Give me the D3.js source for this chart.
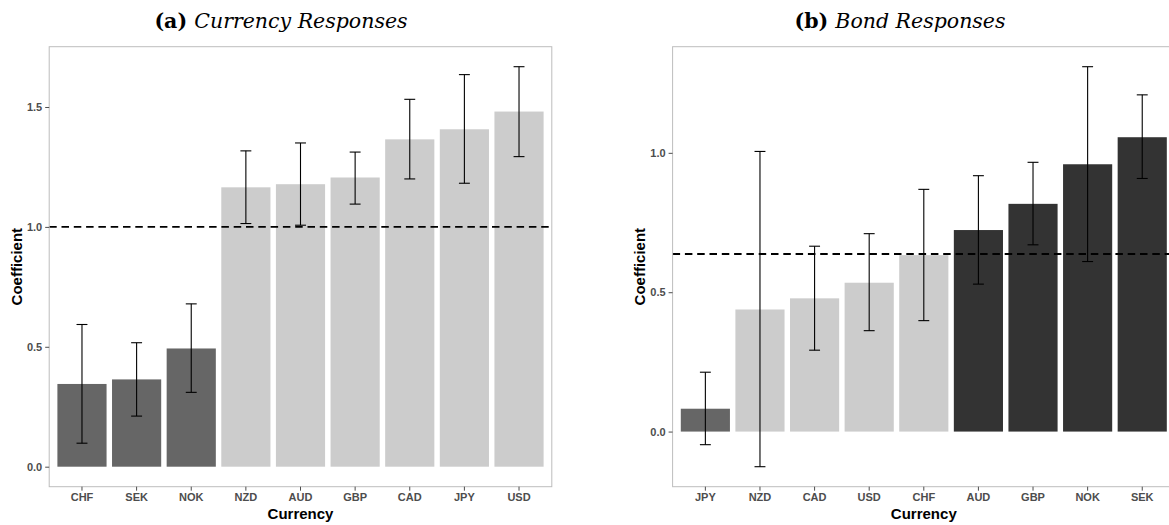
<!DOCTYPE html>
<html>
<head>
<meta charset="utf-8">
<script src="https://cdn.jsdelivr.net/npm/d3@7"></script>
<style>
  html, body { margin: 0; padding: 0; background: #ffffff; }
  svg { display: block; }
</style>
</head>
<body>
<svg id="chart" width="1169" height="525"></svg>
<script>
// ---------- Data: (a) Currency Responses ----------
const curCategories = ["CHF", "SEK", "NOK", "NZD", "AUD", "GBP", "CAD", "JPY", "USD"];
const curValues     = [0.345, 0.364, 0.493, 1.165, 1.178, 1.206, 1.365, 1.407, 1.481];
const curLower      = [0.098, 0.211, 0.310, 1.014, 1.007, 1.095, 1.200, 1.182, 1.293];
const curUpper      = [0.593, 0.517, 0.679, 1.317, 1.350, 1.312, 1.532, 1.635, 1.668];
const curGroups     = ["mid", "mid", "mid", "light", "light", "light", "light", "light", "light"];
const curReference  = 1.0;
const curTicks      = [0.0, 0.5, 1.0, 1.5];

// ---------- Data: (b) Bond Responses ----------
const bondCategories = ["JPY", "NZD", "CAD", "USD", "CHF", "AUD", "GBP", "NOK", "SEK"];
const bondValues     = [0.082, 0.438, 0.478, 0.534, 0.633, 0.723, 0.817, 0.959, 1.056];
const bondLower      = [-0.047, -0.126, 0.292, 0.362, 0.398, 0.529, 0.670, 0.610, 0.908];
const bondUpper      = [0.213, 1.005, 0.665, 0.710, 0.869, 0.918, 0.966, 1.309, 1.208];
const bondGroups     = ["mid", "light", "light", "light", "light", "dark", "dark", "dark", "dark"];
const bondReference  = 0.637;
const bondTicks      = [0.0, 0.5, 1.0];

const groupNames  = ["dark", "mid", "light"];
const groupColors = ["#333333", "#666666", "#cccccc"];

const svg = d3.select("#chart");
const color = d3.scaleOrdinal().domain(groupNames).range(groupColors);

function drawPanel(opts) {
  const { left, right, top, bottom, cats, vals, lo, hi, groups, ref, ticks,
          titleBold, titleItalic, titleX } = opts;

  const x = d3.scaleBand().domain(cats).range([left, right])
    .paddingInner(0.1).paddingOuter(0.15);

  const ymin = Math.min(0, d3.min(lo));
  const ymax = Math.max(d3.max(hi), d3.max(vals));
  const ex = (ymax - ymin) * 0.05;
  const y = d3.scaleLinear().domain([ymin - ex, ymax + ex]).range([bottom, top]);

  const g = svg.append("g");

  // bars
  g.selectAll("rect.bar").data(cats).enter().append("rect")
    .attr("class", "bar")
    .attr("x", d => x(d))
    .attr("width", x.bandwidth())
    .attr("y", (d, i) => y(Math.max(0, vals[i])))
    .attr("height", (d, i) => Math.abs(y(vals[i]) - y(0)))
    .attr("fill", (d, i) => color(groups[i]));

  // reference dashed line
  g.append("line")
    .attr("x1", left).attr("x2", right)
    .attr("y1", y(ref)).attr("y2", y(ref))
    .attr("stroke", "#000").attr("stroke-width", 1.8)
    .attr("stroke-dasharray", "7.5,4.8");

  // error bars
  const capHalf = x.step() * 0.1;
  const eb = g.selectAll("g.eb").data(cats).enter().append("g").attr("class", "eb");
  eb.append("line")
    .attr("x1", d => x(d) + x.bandwidth() / 2).attr("x2", d => x(d) + x.bandwidth() / 2)
    .attr("y1", (d, i) => y(lo[i])).attr("y2", (d, i) => y(hi[i]))
    .attr("stroke", "#000").attr("stroke-width", 1.1);
  eb.append("line")
    .attr("x1", d => x(d) + x.bandwidth() / 2 - capHalf).attr("x2", d => x(d) + x.bandwidth() / 2 + capHalf)
    .attr("y1", (d, i) => y(hi[i])).attr("y2", (d, i) => y(hi[i]))
    .attr("stroke", "#000").attr("stroke-width", 1.1);
  eb.append("line")
    .attr("x1", d => x(d) + x.bandwidth() / 2 - capHalf).attr("x2", d => x(d) + x.bandwidth() / 2 + capHalf)
    .attr("y1", (d, i) => y(lo[i])).attr("y2", (d, i) => y(lo[i]))
    .attr("stroke", "#000").attr("stroke-width", 1.1);

  // panel border
  g.append("rect")
    .attr("x", left).attr("y", top)
    .attr("width", right - left).attr("height", bottom - top)
    .attr("fill", "none").attr("stroke", "#bdbdbd").attr("stroke-width", 1);

  // axes
  const xAxis = d3.axisBottom(x).tickSize(4).tickPadding(3);
  const gx = g.append("g").attr("transform", `translate(0,${bottom})`).call(xAxis);
  const yAxis = d3.axisLeft(y).tickValues(ticks).tickFormat(d3.format(".1f")).tickSize(4).tickPadding(3);
  const gy = g.append("g").attr("transform", `translate(${left},0)`).call(yAxis);
  [gx, gy].forEach(a => {
    a.select(".domain").remove();
    a.selectAll(".tick line").attr("stroke", "#4d4d4d").attr("stroke-width", 1);
    a.selectAll(".tick text")
      .attr("fill", "#4d4d4d")
      .style("font-family", "'Liberation Sans', Arial, sans-serif")
      .style("font-size", "11px")
      .style("font-weight", "bold");
  });

  // axis titles
  g.append("text")
    .attr("x", (left + right) / 2).attr("y", 519)
    .attr("text-anchor", "middle")
    .style("font-family", "'Liberation Sans', Arial, sans-serif")
    .style("font-size", "15px").style("font-weight", "bold")
    .attr("fill", "#000")
    .text("Currency");

  g.append("text")
    .attr("transform", `translate(${left - 27.5},${(top + bottom) / 2}) rotate(-90)`)
    .attr("text-anchor", "middle")
    .style("font-family", "'Liberation Sans', Arial, sans-serif")
    .style("font-size", "15px").style("font-weight", "bold")
    .attr("fill", "#000")
    .text("Coefficient");

  // panel title
  const t = svg.append("text")
    .attr("x", titleX).attr("y", 28)
    .attr("text-anchor", "middle")
    .style("font-family", "'DejaVu Serif', 'Liberation Serif', serif")
    .style("font-size", "20.5px")
    .attr("fill", "#000");
  t.append("tspan").style("font-weight", "bold").text(titleBold + " ");
  t.append("tspan").style("font-style", "italic").text(titleItalic);
}

drawPanel({
  left: 49.2, right: 551.8, top: 46.7, bottom: 486.7,
  cats: curCategories, vals: curValues, lo: curLower, hi: curUpper,
  groups: curGroups, ref: curReference, ticks: curTicks,
  titleBold: "(a)", titleItalic: "Currency Responses", titleX: 281
});

drawPanel({
  left: 672.6, right: 1175.0, top: 46.7, bottom: 486.7,
  cats: bondCategories, vals: bondValues, lo: bondLower, hi: bondUpper,
  groups: bondGroups, ref: bondReference, ticks: bondTicks,
  titleBold: "(b)", titleItalic: "Bond Responses", titleX: 900
});
</script>
</body>
</html>
